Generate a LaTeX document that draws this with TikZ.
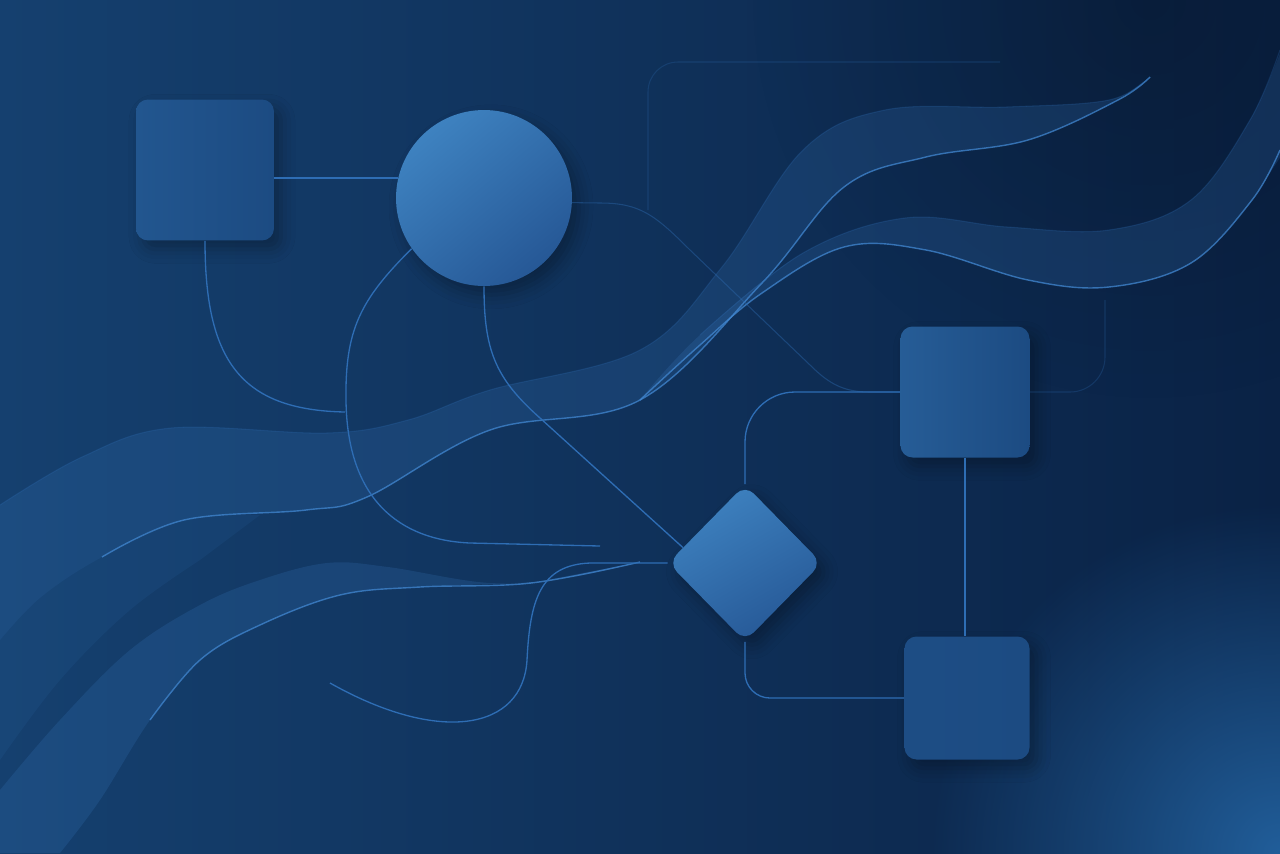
\documentclass[tikz,border=0pt]{standalone}
\usetikzlibrary{shapes.geometric,shadows.blur,fadings}
\definecolor{bgleft}{HTML}{15406F}
\definecolor{bgdark}{HTML}{0A2245}
\definecolor{bgglow}{HTML}{215E9A}
\definecolor{boxlight}{HTML}{22568F}
\definecolor{boxdark}{HTML}{1C4B82}
\definecolor{balllight}{HTML}{3E82C0}
\definecolor{balldark}{HTML}{265896}
\definecolor{linkblue}{HTML}{2E6DB4}
\definecolor{ribblue}{HTML}{3A7CC4}
\definecolor{rimblue}{HTML}{4288D2}
\tikzfading[name=glowfade, inner color=transparent!0, outer color=transparent!100]
\begin{document}
\begin{tikzpicture}[x=0.02cm,y=-0.02cm,
  soft/.style={blur shadow={shadow xshift=4pt,shadow yshift=-5pt,shadow blur radius=8pt,shadow opacity=30}},
  box/.style={rectangle,rounded corners=0.24cm,inner sep=0pt,shade,left color=boxlight,right color=boxdark,soft},
  ball/.style={circle,inner sep=0pt,shade,top color=balllight,bottom color=balldark,shading angle=40,soft},
  rhomb/.style={diamond,inner sep=0pt,rounded corners=0.25cm,shade,top color=balllight,bottom color=balldark,shading angle=30,soft},
  link/.style={draw=linkblue,line width=0.75pt},
  faint/.style={draw=linkblue,line width=0.6pt,opacity=0.25},
  ribbon/.style={fill=ribblue,fill opacity=0.2},
  rim/.style={draw=rimblue,line width=0.8pt,opacity=0.75}]
\useasboundingbox (0,0) rectangle (1280,853);
\shade[left color=bgleft,right color=bgdark] (0,0) rectangle (1280,853);
\fill[bgglow,path fading=glowfade] (1280,853) circle (7cm);
\fill[black,opacity=0.2,path fading=glowfade] (1150,0) circle (8cm);

\fill[ribbon] plot[smooth,tension=0.6] coordinates {(0,505) (82,457) (171,428) (327,433) (408,420) (490,390) (640,350) (722,267) (803,150) (885,110) (1007,107) (1109,100) (1150,77)}
  -- plot[smooth,tension=0.6] coordinates {(1118,100) (1028,140) (926,157) (844,187) (762,283) (640,400) (490,430) (367,497) (306,510) (184,520) (102,557) (41,597) (0,640)} -- cycle;
\fill[ribbon,fill opacity=0.1] plot[smooth,tension=0.6] coordinates {(0,640) (41,597) (102,557) (184,520) (260,515)}
  -- plot[smooth,tension=0.6] coordinates {(200,560) (130,610) (60,680) (0,760)} -- cycle;
\fill[ribbon] plot[smooth,tension=0.6] coordinates {(640,400) (700,335) (803,253) (905,218) (1007,227) (1109,230) (1191,200) (1250,120) (1285,40)}
  -- (1285,150) -- plot[smooth,tension=0.6] coordinates {(1252,200) (1191,263) (1109,287) (1028,280) (926,250) (844,247) (762,293) (700,345) (640,400)} -- cycle;
\fill[ribbon] plot[smooth,tension=0.6] coordinates {(0,790) (60,720) (130,650) (200,605) (260,580) (327,563) (388,567) (490,583) (571,577) (640,562)}
  -- plot[smooth,tension=0.6] coordinates {(531,583) (420,587) (340,595) (260,625) (200,660) (150,720) (100,800) (60,853)} -- (0,853) -- cycle;
\draw[rim] plot[smooth,tension=0.6] coordinates {(1150,77) (1118,100) (1028,140) (926,157) (844,187) (762,283) (640,400) (490,430) (367,497) (306,510) (184,520) (102,557)};
\draw[rim] plot[smooth,tension=0.6] coordinates {(1280,150) (1252,200) (1191,263) (1109,287) (1028,280) (926,250) (844,247) (762,293) (700,345) (640,400)};
\draw[rim] plot[smooth,tension=0.6] coordinates {(640,562) (531,583) (420,587) (340,595) (260,625) (200,660) (150,720)};
\draw[faint] plot[smooth,tension=0.6] coordinates {(700,335) (803,253) (905,218) (1007,227) (1109,230) (1191,200) (1250,120) (1280,50)};
\draw[faint] plot[smooth,tension=0.6] coordinates {(0,505) (82,457) (171,428) (327,433) (408,420) (490,390) (640,350) (722,267) (803,150) (885,110) (1007,107) (1109,100) (1150,77)};

\node[box,minimum width=2.76cm,minimum height=2.82cm] (sqA) at (205,170) {};
\node[ball,minimum size=3.52cm] (cA) at (484,198) {};
\node[box,minimum width=2.58cm,minimum height=2.62cm,left color=boxlight!85!balllight] (sqB) at (965,392) {};
\node[box,minimum width=2.5cm,minimum height=2.46cm,left color=boxdark!80!boxlight,right color=boxdark] (sqC) at (967,698) {};
\node[rhomb,minimum width=3.08cm,minimum height=3.14cm] (dA) at (745,563) {};
\coordinate (m1) at (345,412);
\coordinate (m2) at (600,546);
\coordinate (m3) at (330,683);
\coordinate (m4) at (1105,300);
\coordinate (m5) at (648,210);
\coordinate (m6) at (1000,62);

\draw[link] (sqA.east |- cA.167) -- (cA.167);
\draw[link] (sqA.south) .. controls (205,360) and (240,410) .. (m1);
\draw[link] (cA.215) .. controls (360,300) and (345,330) .. (346,400) .. controls (347,500) and (400,540) .. (470,543) -- (m2);
\draw[link] (cA.south) .. controls (484,350) and (495,378) .. (540,418) -- (dA.166);
\draw[faint,opacity=0.4] (cA.-3) -- (600,203) .. controls (640,203) and (655,215) .. (690,250) -- (810,365) .. controls (830,385) and (845,392) .. (870,392) -- (sqB.west);
\draw[faint,rounded corners=0.7cm] (sqB.east) -- (1105,392) -- (m4);
\draw[faint,rounded corners=0.6cm] (m5) -- (648,62) -- (m6);
\draw[link,rounded corners=1cm] (dA.north) -- (dA.north |- sqB.west) -- (sqB.west);
\draw[link,rounded corners=0.5cm] (dA.south) -- (dA.south |- sqC.west) -- (sqC.west);
\draw[link] (sqB.south) -- (sqB.south |- sqC.north);
\draw[link] (dA.west) -- (590,563) .. controls (540,565) and (530,600) .. (527,660) .. controls (523,730) and (440,745) .. (m3);
\end{tikzpicture}
\end{document}
